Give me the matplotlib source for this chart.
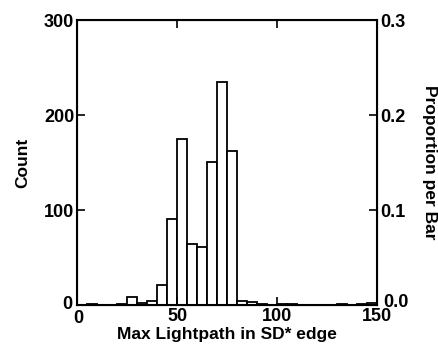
import numpy as np
import matplotlib.pyplot as plt
from matplotlib.transforms import ScaledTranslation

# histogram bins (width 5) and counts
bin_edges = np.arange(0, 150, 5)
counts = [0, 1, 0, 0, 1, 8, 2, 4, 21, 91,
          175, 64, 61, 151, 235, 162, 4, 3, 1, 0,
          1, 1, 0, 0, 0, 0, 1, 0, 1, 2]
total = 1000  # proportion axis: 300 counts <-> 0.3

x_ticks = [0, 50, 100, 150]
count_ticks = [0, 100, 200, 300]
prop_ticks = [0.0, 0.1, 0.2, 0.3]

plt.rcParams['font.family'] = ['Liberation Sans', 'DejaVu Sans']
plt.rcParams['font.weight'] = 'bold'


def nudge(label, fig, dx, dy):
    label.set_transform(label.get_transform() +
                        ScaledTranslation(dx, dy, fig.dpi_scale_trans))


def main():
    fig = plt.figure(figsize=(4.39, 3.52), dpi=100)
    ax = fig.add_axes([0.1754, 0.1335, 0.6834, 0.8095])

    ax.bar(bin_edges, counts, width=5, align="edge",
           facecolor="white", edgecolor="black", linewidth=1.3)

    ax.set_xlim(0, 150)
    ax.set_ylim(0, 300)
    ax.set_xticks(x_ticks)
    ax.set_yticks(count_ticks)
    ax.tick_params(direction="in", length=6, width=1.2, labelsize=13,
                   top=True, pad=2)
    for s in ax.spines.values():
        s.set_linewidth(1.5)

    ax.set_xlabel("Max Lightpath in SD* edge", fontsize=12.5,
                  fontweight="bold", labelpad=0)
    ax.set_ylabel("Count", fontsize=12.5, fontweight="bold", labelpad=10)

    ax2 = ax.twinx()
    ax2.set_ylim(0, 300 / total)
    ax2.set_yticks(prop_ticks)
    ax2.set_yticklabels([f"{v:.1f}" for v in prop_ticks])
    ax2.tick_params(direction="in", length=6, width=1.2, labelsize=13, pad=2)
    ax2.set_ylabel("Proportion per Bar", fontsize=12.5, fontweight="bold",
                   rotation=-90, va="bottom", labelpad=10)

    # corner labels sit a little apart in the original
    nudge(ax2.get_yticklabels()[0], fig, 0.03, 0.05)
    nudge(ax.get_yticklabels()[0], fig, -0.02, 0.03)
    nudge(ax.get_xticklabels()[0], fig, 0.01, -0.02)

    fig.savefig("out.png", dpi=100)
    plt.close(fig)


if __name__ == "__main__":
    main()
